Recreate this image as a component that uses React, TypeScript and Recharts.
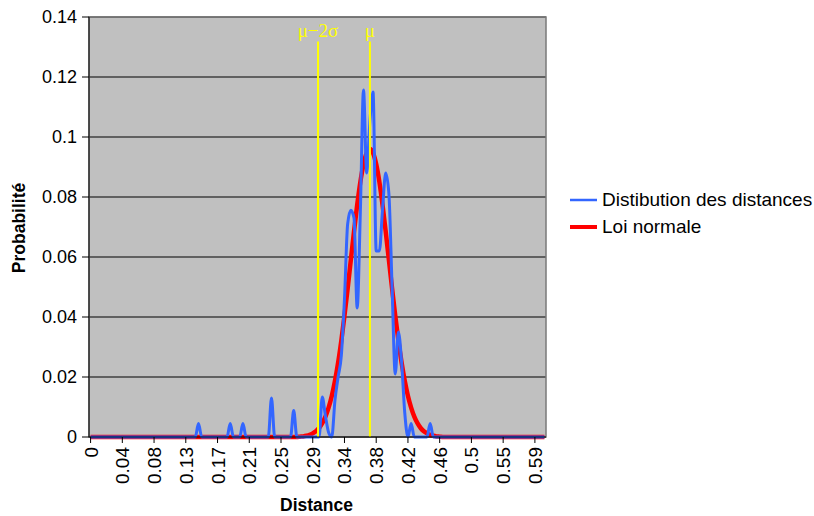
import { LineChart, Line, XAxis, YAxis, CartesianGrid, Legend, ReferenceLine, ReferenceArea } from "recharts"

// step between two distance classes (labels every 10 classes: 0, 0.04, 0.08 ...)
const DIST_STEP = 0.0042

// Distibution des distances (blue), one value per class
const distributionValues = [
  0, 0, 0, 0, 0, 0, 0, 0, 0, 0,
  0, 0, 0, 0, 0, 0, 0, 0, 0, 0,
  0, 0, 0, 0, 0, 0, 0, 0, 0, 0,
  0, 0, 0, 0, 0.0045, 0, 0, 0, 0, 0,
  0, 0, 0, 0, 0.0045, 0, 0, 0, 0.0045, 0,
  0, 0, 0, 0, 0, 0, 0, 0.013, 0, 0,
  0, 0, 0, 0, 0.0088, 0, 0, 0, 0, 0,
  0, 0, 0, 0.0133, 0.007, 0.0015, 0, 0.0122, 0.02, 0.027,
  0.046, 0.071, 0.0756, 0.073, 0.043, 0.075, 0.1157, 0.088, 0.105, 0.115,
  0.062, 0.062, 0.076, 0.088, 0.081, 0.05, 0.021, 0.035, 0.025, 0.008,
  0, 0.0045, 0, 0, 0, 0, 0, 0.0045, 0, 0,
  0, 0, 0, 0, 0, 0, 0, 0, 0, 0,
  0, 0, 0, 0, 0, 0, 0, 0, 0, 0,
  0, 0, 0, 0, 0, 0, 0, 0, 0, 0,
  0, 0, 0, 0,
]

// Loi normale (red)
const normalValues = [
  0, 0, 0, 0, 0, 0, 0, 0, 0, 0,
  0, 0, 0, 0, 0, 0, 0, 0, 0, 0,
  0, 0, 0, 0, 0, 0, 0, 0, 0, 0,
  0, 0, 0, 0, 0, 0, 0, 0, 0, 0,
  0, 0, 0, 0, 0, 0, 0, 0, 0, 0,
  0, 0, 0, 0, 0, 0, 0, 0, 0, 0,
  0, 0, 0, 0, 0, 0, 0.0001, 0.0002, 0.0004, 0.0007,
  0.0012, 0.0019, 0.003, 0.0046, 0.0068, 0.0098, 0.0137, 0.0187, 0.0248, 0.0321,
  0.0404, 0.0495, 0.059, 0.0684, 0.0773, 0.085, 0.0909, 0.0947, 0.096, 0.0947,
  0.0909, 0.085, 0.0773, 0.0684, 0.059, 0.0495, 0.0404, 0.0321, 0.0248, 0.0187,
  0.0137, 0.0098, 0.0068, 0.0046, 0.003, 0.0019, 0.0012, 0.0007, 0.0004, 0.0002,
  0.0001, 0, 0, 0, 0, 0, 0, 0, 0, 0,
  0, 0, 0, 0, 0, 0, 0, 0, 0, 0,
  0, 0, 0, 0, 0, 0, 0, 0, 0, 0,
  0, 0, 0, 0,
]

const xTickLabels = ["0", "0.04", "0.08", "0.13", "0.17", "0.21", "0.25", "0.29", "0.34", "0.38", "0.42", "0.46", "0.5", "0.55", "0.59"]
const yTicks = [0, 0.02, 0.04, 0.06, 0.08, 0.1, 0.12, 0.14]

// vertical markers
const MU = 0.3697
const MU_MINUS_2SIGMA = 0.301
const MARKER_TOP = 0.1318

const distances = distributionValues.map((_, i) => Number((i * DIST_STEP).toFixed(4)))
const xTicks = xTickLabels.map((_, k) => distances[k * 10])
const labelByTick = new Map(xTicks.map((v, k) => [v, xTickLabels[k]]))
const xDomain = [distances[0] - DIST_STEP / 2, distances[distances.length - 1] + DIST_STEP / 2]

const data = distances.map((d, i) => ({
  distance: d,
  distribution: distributionValues[i],
  normal: normalValues[i],
}))

const series = [
  { key: "distribution", name: "Distibution des distances", color: "#3366FF", width: 3 },
  { key: "normal", name: "Loi normale", color: "#FF0000", width: 4.5 },
]

const XTick = (props: any) => {
  const { x, y, payload } = props
  return (
    <text
      transform={`translate(${x + 0.5},${y + 2}) rotate(-90)`}
      textAnchor="end"
      dominantBaseline="central"
      fontSize={19}
      fill="#000"
    >
      {labelByTick.get(payload.value) ?? ""}
    </text>
  )
}

const renderYLabel = (props: any) => {
  const { x, y, height } = props.viewBox
  const cx = x + 19
  const cy = y + height / 2 + 1
  return (
    <text x={cx} y={cy} transform={`rotate(-90 ${cx} ${cy})`} textAnchor="middle" dominantBaseline="central" fontSize={17.5} fontWeight="bold" fill="#000">
      Probabilité
    </text>
  )
}

const renderXLabel = (props: any) => {
  const { x, y, width } = props.viewBox
  return (
    <text x={x + width / 2 - 1} y={y + 68} textAnchor="middle" dominantBaseline="central" fontSize={17.5} fontWeight="bold" fill="#000">
      Distance
    </text>
  )
}

const renderLegend = () => (
  <div>
    {series.map((s) => (
      <div key={s.key} style={{ display: "flex", alignItems: "center", height: 27.5 }}>
        <svg width={27} height={8}>
          <line x1={0} x2={27} y1={4} y2={4} stroke={s.color} strokeWidth={s.width - 0.5} />
        </svg>
        <span style={{ fontSize: 19, marginLeft: 5, color: "#000", whiteSpace: "nowrap" }}>{s.name}</span>
      </div>
    ))}
  </div>
)

const markerLabel = (text: string) => ({
  value: text,
  position: "top" as const,
  offset: 5,
  fill: "#FFFF00",
  fontSize: 19,
  fontFamily: '"Liberation Serif", "Times New Roman", serif',
})

export default function App() {
  return (
    <div
      style={{
        position: "absolute",
        left: 0,
        top: 0,
        width: 814,
        height: 516,
        background: "#fff",
        fontFamily: '"Liberation Sans", Arial, sans-serif',
      }}
    >
      <LineChart width={814} height={516} data={data} margin={{ top: 17, right: 268, bottom: 0, left: 0 }}>
        <CartesianGrid vertical={false} stroke="#000" strokeWidth={1.2} fill="#C0C0C0" fillOpacity={1} />
        <ReferenceArea x1={xDomain[0]} x2={xDomain[1]} y1={0} y2={0.14} fill="none" stroke="#7a7a7a" strokeWidth={1.5} />
        <XAxis
          type="number"
          dataKey="distance"
          domain={xDomain}
          ticks={xTicks}
          interval={0}
          allowDataOverflow
          height={79}
          tickSize={6}
          axisLine={{ stroke: "#000" }}
          tickLine={{ stroke: "#000" }}
          tick={XTick}
          label={renderXLabel}
        />
        <YAxis
          type="number"
          domain={[0, 0.14]}
          ticks={yTicks}
          interval={0}
          width={89}
          tickSize={7}
          tickMargin={5}
          axisLine={{ stroke: "#000" }}
          tickLine={{ stroke: "#000" }}
          tick={{ fill: "#000", fontSize: 18 }}
          tickFormatter={(v: number) => String(v)}
          label={renderYLabel}
        />
        <Line
          type="monotone"
          dataKey="normal"
          name="Loi normale"
          stroke="#FF0000"
          strokeWidth={4.5}
          strokeLinejoin="round"
          dot={false}
          activeDot={false}
          isAnimationActive={false}
        />
        <Line
          type="monotone"
          dataKey="distribution"
          name="Distibution des distances"
          stroke="#3366FF"
          strokeWidth={3}
          strokeLinejoin="round"
          dot={false}
          activeDot={false}
          isAnimationActive={false}
        />
        <ReferenceLine
          segment={[{ x: MU_MINUS_2SIGMA, y: MARKER_TOP }, { x: MU_MINUS_2SIGMA, y: 0 }]}
          stroke="#FFFF00"
          strokeWidth={2}
          label={markerLabel("μ−2σ")}
        />
        <ReferenceLine
          segment={[{ x: MU, y: MARKER_TOP }, { x: MU, y: 0 }]}
          stroke="#FFFF00"
          strokeWidth={2}
          label={markerLabel("μ")}
        />
        <Legend
          layout="vertical"
          align="center"
          verticalAlign="middle"
          wrapperStyle={{ left: 570, top: 186, width: 244, height: 56 }}
          content={renderLegend}
        />
      </LineChart>
    </div>
  )
}
